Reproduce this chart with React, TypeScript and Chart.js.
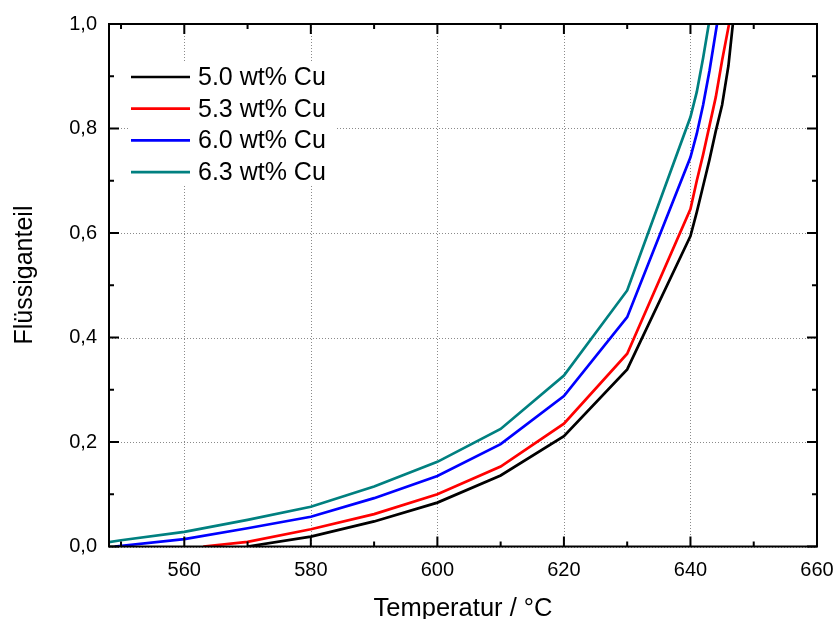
import { useEffect, useRef } from "react";
import { Chart, registerables } from "chart.js";

Chart.register(...registerables);

// ---- data ----
const seriesLabels = ["5.0 wt% Cu", "5.3 wt% Cu", "6.0 wt% Cu", "6.3 wt% Cu"];
const seriesColors = ["#000000", "#ff0000", "#0000ff", "#008080"];

const temp50 = [570, 580, 590, 600, 610, 620, 630, 640, 641, 642, 643, 644, 645, 646, 646.7];
const frac50 = [0.0, 0.019, 0.048, 0.084, 0.136, 0.211, 0.339, 0.594, 0.64, 0.69, 0.74, 0.795, 0.845, 0.92, 1.0];

const temp53 = [563, 570, 580, 590, 600, 610, 620, 630, 640, 641, 642, 643, 644, 645, 646.1];
const frac53 = [0.0, 0.009, 0.033, 0.062, 0.1, 0.153, 0.235, 0.369, 0.646, 0.7, 0.75, 0.805, 0.86, 0.93, 1.0];

const temp60 = [549, 560, 570, 580, 590, 600, 610, 620, 630, 640, 641, 642, 643, 644.2];
const frac60 = [0.0, 0.014, 0.035, 0.057, 0.0925, 0.135, 0.196, 0.288, 0.439, 0.745, 0.79, 0.845, 0.91, 1.0];

const temp63 = [548, 550, 560, 570, 580, 590, 600, 610, 620, 630, 640, 641, 642, 642.9];
const frac63 = [0.008, 0.012, 0.028, 0.051, 0.076, 0.115, 0.162, 0.225, 0.327, 0.49, 0.822, 0.87, 0.935, 1.0];

const seriesTemps = [temp50, temp53, temp60, temp63];
const seriesFracs = [frac50, frac53, frac60, frac63];

const xMin = 548.1;
const xMax = 660;
const yMin = 0;
const yMax = 1;
const xTickValues = [560, 580, 600, 620, 640, 660];
const xMinorValues = [550, 570, 590, 610, 630, 650];
const yTickValues = [0, 0.2, 0.4, 0.6, 0.8, 1.0];
const yMinorValues = [0.1, 0.3, 0.5, 0.7, 0.9];

const xTitle = "Temperatur / °C";
const yTitle = "Flüssiganteil";

const FONT = '"Liberation Sans", Arial, Helvetica, sans-serif';

export default function App() {
  const canvasRef = useRef<HTMLCanvasElement | null>(null);

  useEffect(() => {
    const canvas = canvasRef.current;
    if (!canvas) return;

    const gridPlugin = {
      id: "dottedGrid",
      beforeDatasetsDraw(chart: any) {
        const { ctx, chartArea } = chart;
        const xs = chart.scales.x;
        const ys = chart.scales.y;
        ctx.save();
        ctx.strokeStyle = "#8a8a8a";
        ctx.lineWidth = 1;
        ctx.setLineDash([1, 2]);
        xTickValues.forEach((v) => {
          const px = Math.round(xs.getPixelForValue(v)) + 0.5;
          ctx.beginPath();
          ctx.moveTo(px, chartArea.top);
          ctx.lineTo(px, chartArea.bottom);
          ctx.stroke();
        });
        yTickValues.forEach((v) => {
          const py = Math.round(ys.getPixelForValue(v)) + 0.5;
          ctx.beginPath();
          ctx.moveTo(chartArea.left, py);
          ctx.lineTo(chartArea.right, py);
          ctx.stroke();
        });
        ctx.restore();
      },
    };

    const overlayPlugin = {
      id: "frameLegendTitles",
      afterDatasetsDraw(chart: any) {
        const { ctx, chartArea } = chart;
        const xs = chart.scales.x;
        const ys = chart.scales.y;
        const { left, right, top, bottom } = chartArea;

        ctx.save();
        // legend (white box, no border)
        ctx.fillStyle = "#ffffff";
        ctx.fillRect(130, 62, 205, 124);
        chart.data.datasets.forEach((ds: any, i: number) => {
          const ly = 77 + i * 31.7;
          ctx.strokeStyle = ds.borderColor;
          ctx.lineWidth = 2.7;
          ctx.beginPath();
          ctx.moveTo(131, ly);
          ctx.lineTo(190, ly);
          ctx.stroke();
          ctx.fillStyle = "#000";
          ctx.font = `25px ${FONT}`;
          ctx.textAlign = "left";
          ctx.textBaseline = "middle";
          ctx.fillText(ds.label, 198, ly + 1);
        });

        // frame
        ctx.strokeStyle = "#000";
        ctx.lineWidth = 2;
        ctx.setLineDash([]);
        ctx.strokeRect(left, top, right - left, bottom - top);

        const major = 10;
        const minor = 5;
        const drawX = (v: number, len: number) => {
          const px = xs.getPixelForValue(v);
          ctx.beginPath();
          ctx.moveTo(px, bottom);
          ctx.lineTo(px, bottom - len);
          ctx.moveTo(px, top);
          ctx.lineTo(px, top + len);
          ctx.stroke();
        };
        const drawY = (v: number, len: number) => {
          const py = ys.getPixelForValue(v);
          ctx.beginPath();
          ctx.moveTo(left, py);
          ctx.lineTo(left + len, py);
          ctx.moveTo(right, py);
          ctx.lineTo(right - len, py);
          ctx.stroke();
        };
        xTickValues.forEach((v) => drawX(v, major));
        xMinorValues.forEach((v) => drawX(v, minor));
        yTickValues.forEach((v) => drawY(v, major));
        yMinorValues.forEach((v) => drawY(v, minor));

        // axis titles
        ctx.fillStyle = "#000";
        ctx.textAlign = "center";
        ctx.textBaseline = "alphabetic";
        ctx.font = `25.5px ${FONT}`;
        ctx.fillText(xTitle, (left + right) / 2, 616);

        ctx.font = `25px ${FONT}`;
        ctx.translate(32, 275);
        ctx.rotate(-Math.PI / 2);
        ctx.fillText(yTitle, 0, 0);
        ctx.restore();
      },
    };

    const datasets = seriesLabels.map((label, i) => ({
      label,
      data: seriesTemps[i].map((t, j) => ({ x: t, y: seriesFracs[i][j] })),
      borderColor: seriesColors[i],
      backgroundColor: seriesColors[i],
      borderWidth: 2.7,
      pointRadius: 0,
      tension: 0,
      fill: false,
      clip: 0,
    }));

    const chart = new Chart(canvas, {
      type: "line",
      data: { datasets },
      options: {
        responsive: false,
        animation: false,
        events: [],
        layout: { padding: { left: 0, top: 24, right: 17, bottom: 0 } },
        plugins: {
          legend: { display: false },
          tooltip: { enabled: false },
          title: { display: false },
        },
        scales: {
          x: {
            type: "linear",
            min: xMin,
            max: xMax,
            afterBuildTicks: (s: any) => {
              s.ticks = xTickValues.map((v) => ({ value: v }));
            },
            afterFit: (s: any) => {
              s.height = 72.5;
              s.paddingLeft = 0;
              s.paddingRight = 0;
            },
            grid: { display: false, drawTicks: false },
            border: { display: false },
            ticks: {
              autoSkip: false,
              maxRotation: 0,
              padding: 12,
              color: "#000",
              font: { family: FONT, size: 20 },
              callback: (v: any) => String(v),
            },
          },
          y: {
            type: "linear",
            min: yMin,
            max: yMax,
            afterBuildTicks: (s: any) => {
              s.ticks = yTickValues.map((v) => ({ value: v }));
            },
            afterFit: (s: any) => {
              s.width = 109;
              s.paddingTop = 0;
              s.paddingBottom = 0;
            },
            grid: { display: false, drawTicks: false },
            border: { display: false },
            ticks: {
              autoSkip: false,
              padding: 12,
              color: "#000",
              font: { family: FONT, size: 20 },
              callback: (v: any) => Number(v).toFixed(1).replace(".", ","),
            },
          },
        },
      },
      plugins: [gridPlugin, overlayPlugin],
    });

    return () => chart.destroy();
  }, []);

  return (
    <div
      style={{
        position: "fixed",
        left: 0,
        top: 0,
        width: 834,
        height: 619,
        background: "#ffffff",
      }}
    >
      <canvas ref={canvasRef} width={834} height={619} style={{ display: "block" }} />
    </div>
  );
}
